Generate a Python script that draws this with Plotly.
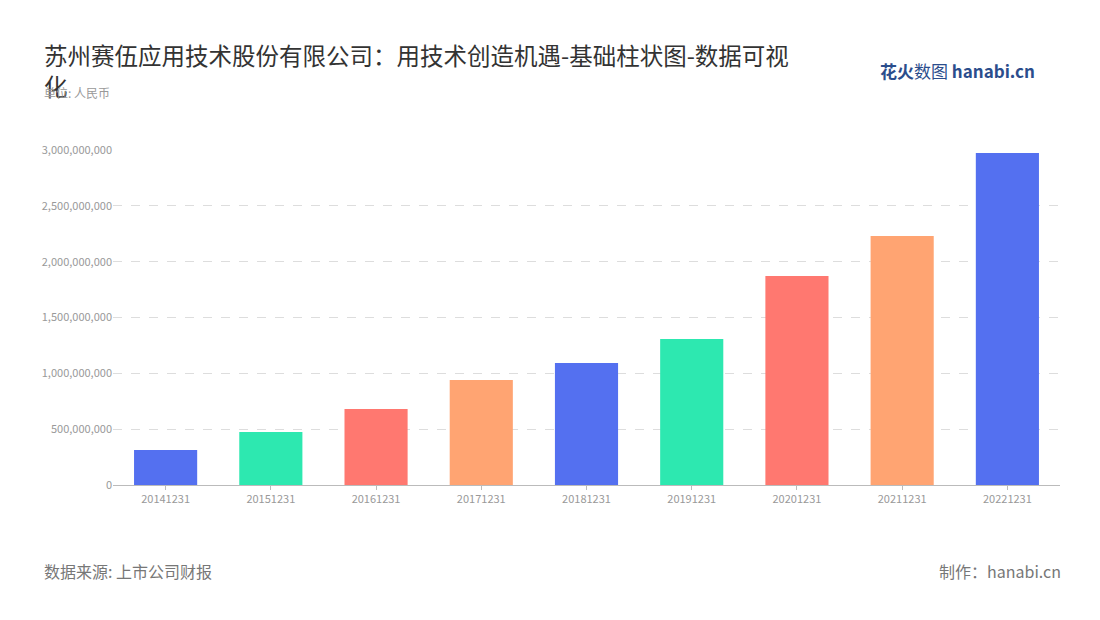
import plotly.graph_objects as go

dates = ['20141231', '20151231', '20161231', '20171231', '20181231',
         '20191231', '20201231', '20211231', '20221231']
values = [313e6, 475e6, 680e6, 940e6, 1092e6, 1307e6, 1871e6, 2229e6, 2973e6]
palette = ['#5470f0', '#2de8b0', '#ff7870', '#ffa472']
bar_colors = [palette[i % 4] for i in range(len(dates))]

font_family = 'Noto Sans CJK SC, Noto Sans, sans-serif'

fig = go.Figure()
fig.add_trace(go.Bar(x=dates, y=values, marker=dict(color=bar_colors, line=dict(width=0)),
                     width=0.6, hovertemplate='%{x}: %{y:,.0f}<extra></extra>'))

fig.update_layout(
    width=1100, height=620,
    paper_bgcolor='#ffffff', plot_bgcolor='#ffffff',
    margin=dict(l=105, r=48, t=142, b=143),
    font=dict(family=font_family, color='#999999'),
    showlegend=False,
    bargap=0.4,
)
fig.update_xaxes(showline=True, linecolor='#bbbbbb', tickfont=dict(size=11, color='#999999'),
                 ticks='outside', ticklen=4, tickcolor='#bbbbbb', type='category')
fig.update_yaxes(range=[0, 3e9], dtick=5e8, tickformat=',d', showgrid=True,
                 gridcolor='#dddddd', griddash='dash', zeroline=False,
                 tickfont=dict(size=11, color='#999999'))

fig.add_annotation(text='苏州赛伍应用技术股份有限公司：用技术创造机遇-基础柱状图-数据可视<br>化',
                   xref='paper', yref='paper', x=-0.075, y=1.34, xanchor='left', yanchor='top',
                   align='left', showarrow=False, font=dict(size=23.5, color='#333333'))
fig.add_annotation(text='单位: 人民币', xref='paper', yref='paper', x=-0.075, y=1.14,
                   xanchor='left', yanchor='bottom', showarrow=False, font=dict(size=12, color='#999999'))
fig.add_annotation(text='数据来源: 上市公司财报', xref='paper', yref='paper', x=-0.075, y=-0.215,
                   xanchor='left', yanchor='top', showarrow=False, font=dict(size=16, color='#777777'))
fig.add_annotation(text='制作：hanabi.cn', xref='paper', yref='paper', x=1.003, y=-0.215,
                   xanchor='right', yanchor='top', showarrow=False, font=dict(size=16, color='#777777'))
fig.add_annotation(text='<b>花火</b>数图 <b>hanabi.cn</b>', xref='paper', yref='paper', x=0.976, y=1.236,
                   xanchor='right', yanchor='middle', showarrow=False, font=dict(size=17, color='#2b4d8c'))

fig.write_html('out.html')
